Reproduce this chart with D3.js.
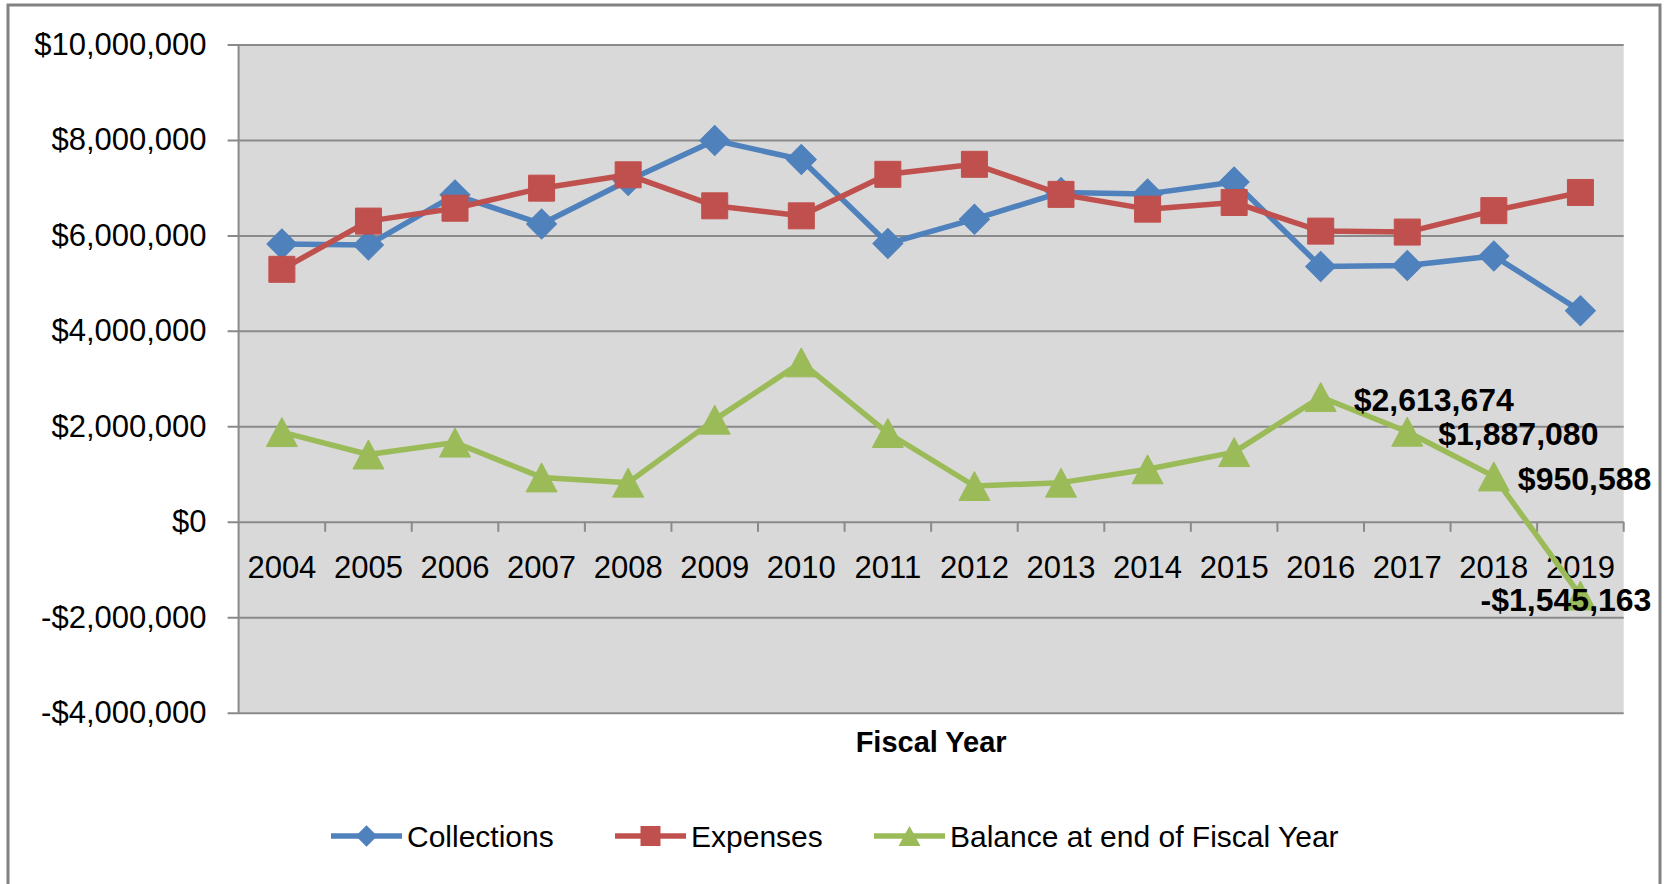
<!DOCTYPE html>
<html>
<head>
<meta charset="utf-8">
<script src="https://cdn.jsdelivr.net/npm/d3@7"></script>
<style>
  body { margin: 0; background: #fff; }
  text { font-family: "Liberation Sans", Arial, sans-serif; fill: #000; }
</style>
</head>
<body>
<div id="chart"></div>
<script>
// Data
var years = ["2004", "2005", "2006", "2007", "2008", "2009", "2010", "2011",
             "2012", "2013", "2014", "2015", "2016", "2017", "2018", "2019"];
var collections = [5820000, 5800000, 6850000, 6240000, 7150000, 7990000, 7590000, 5830000,
                   6340000, 6900000, 6870000, 7120000, 5350000, 5370000, 5570000, 4420000];
var expenses = [5290000, 6300000, 6570000, 6990000, 7270000, 6620000, 6410000, 7280000,
                7490000, 6860000, 6550000, 6690000, 6090000, 6070000, 6520000, 6900000];
var balance = [1880000, 1410000, 1660000, 930000, 820000, 2140000, 3340000, 1860000,
               750000, 820000, 1100000, 1460000, 2613674, 1887080, 950588, -1545163];
var seriesNames = ["Collections", "Expenses", "Balance at end of Fiscal Year"];
var yTicks = [-4000000, -2000000, 0, 2000000, 4000000, 6000000, 8000000, 10000000];
var labelledYears = ["2016", "2017", "2018", "2019"];

// Chart Params
var svgWidth = 1667;
var svgHeight = 884;
var plot = { left: 238.6, top: 44.5, right: 1623.7, bottom: 712.7 };
var colors = ["#4F81BD", "#C0504D", "#9BBB59"];

var svg = d3.select("#chart")
  .append("svg")
  .attr("width", svgWidth)
  .attr("height", svgHeight);

// outer chart border
svg.append("rect")
  .attr("x", 8).attr("y", 5)
  .attr("width", 1652).attr("height", 900)
  .attr("fill", "#fff")
  .attr("stroke", "#828282")
  .attr("stroke-width", 3);

// scales
var x = d3.scaleBand()
  .domain(years)
  .range([plot.left, plot.right]);

var y = d3.scaleLinear()
  .domain([-4000000, 10000000])
  .range([plot.bottom, plot.top]);

var money = function(v) {
  var s = d3.format(",")(Math.abs(v));
  return (v < 0 ? "-$" : "$") + s;
};

// plot background
svg.append("rect")
  .attr("x", plot.left).attr("y", plot.top)
  .attr("width", plot.right - plot.left)
  .attr("height", plot.bottom - plot.top)
  .attr("fill", "#d9d9d9");

// y axis with gridlines (gridline + outside tick in one)
var yAxis = svg.append("g")
  .attr("transform", `translate(${plot.left - 11}, 0)`)
  .call(d3.axisLeft(y)
    .tickValues(yTicks)
    .tickSize(-(plot.right - plot.left + 11))
    .tickPadding(21)
    .tickFormat(money));
yAxis.select(".domain").remove();
yAxis.selectAll(".tick line").attr("stroke", "#8a8a8a").attr("stroke-width", 2);
yAxis.selectAll("text").style("font-size", "31px").attr("fill", "#000");

// left axis line
svg.append("line")
  .attr("x1", plot.left).attr("x2", plot.left)
  .attr("y1", plot.top).attr("y2", plot.bottom)
  .attr("stroke", "#8a8a8a").attr("stroke-width", 2);

// x axis category ticks (between categories) at $0
var boundaries = years.map(d => x(d)).concat([x(years[years.length - 1]) + x.bandwidth()]);
svg.append("g").selectAll("line")
  .data(boundaries.slice(1))
  .enter()
  .append("line")
  .attr("x1", d => d).attr("x2", d => d)
  .attr("y1", y(0)).attr("y2", y(0) + 10)
  .attr("stroke", "#8a8a8a").attr("stroke-width", 2);

// x axis labels
var xAxis = svg.append("g")
  .attr("transform", `translate(0, ${y(0)})`)
  .call(d3.axisBottom(x).tickSize(0).tickPadding(34));
xAxis.select(".domain").remove();
xAxis.selectAll("text").style("font-size", "31px").attr("fill", "#000");

// x axis title
svg.append("text")
  .attr("x", (plot.left + plot.right) / 2)
  .attr("y", 742)
  .attr("dy", "0.35em")
  .attr("text-anchor", "middle")
  .style("font-size", "29px")
  .style("font-weight", "bold")
  .text("Fiscal Year");

// marker shapes
var diamond = d3.symbol().type(d3.symbolSquare).size(450);
var square = d3.symbol().type(d3.symbolSquare).size(676);
var triangleType = function(w, h) {
  return {
    draw: function(ctx) {
      ctx.moveTo(0, -h / 2);
      ctx.lineTo(w / 2, h / 2);
      ctx.lineTo(-w / 2, h / 2);
      ctx.closePath();
    }
  };
};
var triangle = d3.symbol().type(triangleType(31, 29));

var cx = d => x(d) + x.bandwidth() / 2;

var series = [
  { name: seriesNames[0], values: collections, color: colors[0], marker: diamond, rot: 45 },
  { name: seriesNames[1], values: expenses, color: colors[1], marker: square, rot: 0 },
  { name: seriesNames[2], values: balance, color: colors[2], marker: triangle, rot: 0 }
];

var line = d3.line()
  .x((d, i) => cx(years[i]))
  .y(d => y(d));

series.forEach(function(s) {
  var g = svg.append("g");
  g.append("path")
    .datum(s.values)
    .attr("d", line)
    .attr("fill", "none")
    .attr("stroke", s.color)
    .attr("stroke-width", 5.5)
    .attr("stroke-linejoin", "round");

  g.selectAll("path.marker")
    .data(s.values)
    .enter()
    .append("path")
    .classed("marker", true)
    .attr("d", s.marker())
    .attr("transform", (d, i) => `translate(${cx(years[i])}, ${y(d)}) rotate(${s.rot})`)
    .attr("fill", s.color)
    .attr("stroke", s.color)
    .attr("stroke-width", 1);
});

// data labels on balance series (label offsets from each point)
var labelDx = [33, 31, 24, 71];
labelledYears.forEach(function(yr, k) {
  var i = years.indexOf(yr);
  var last = i === years.length - 1;
  svg.append("text")
    .attr("x", cx(yr) + labelDx[k])
    .attr("y", y(balance[i]) + (last ? 4 : 2.5))
    .attr("dy", "0.35em")
    .attr("text-anchor", last ? "end" : "start")
    .style("font-size", "32px")
    .style("font-weight", "bold")
    .text(money(balance[i]));
});

// legend
var legendX = [331, 615, 874];
var legendY = 836;
var legendMarkers = [
  d3.symbol().type(d3.symbolSquare).size(230),
  d3.symbol().type(d3.symbolSquare).size(400),
  d3.symbol().type(triangleType(22, 20))
];
series.forEach(function(s, i) {
  var lg = svg.append("g").attr("transform", `translate(${legendX[i]}, ${legendY})`);
  lg.append("line")
    .attr("x1", 0).attr("x2", 71)
    .attr("y1", 0).attr("y2", 0)
    .attr("stroke", s.color)
    .attr("stroke-width", 5.5);
  lg.append("path")
    .attr("d", legendMarkers[i]())
    .attr("transform", `translate(35.5, 0) rotate(${s.rot})`)
    .attr("fill", s.color);
  lg.append("text")
    .attr("x", 76)
    .attr("y", 0)
    .attr("dy", "0.35em")
    .style("font-size", "30px")
    .text(s.name);
});
</script>
</body>
</html>
